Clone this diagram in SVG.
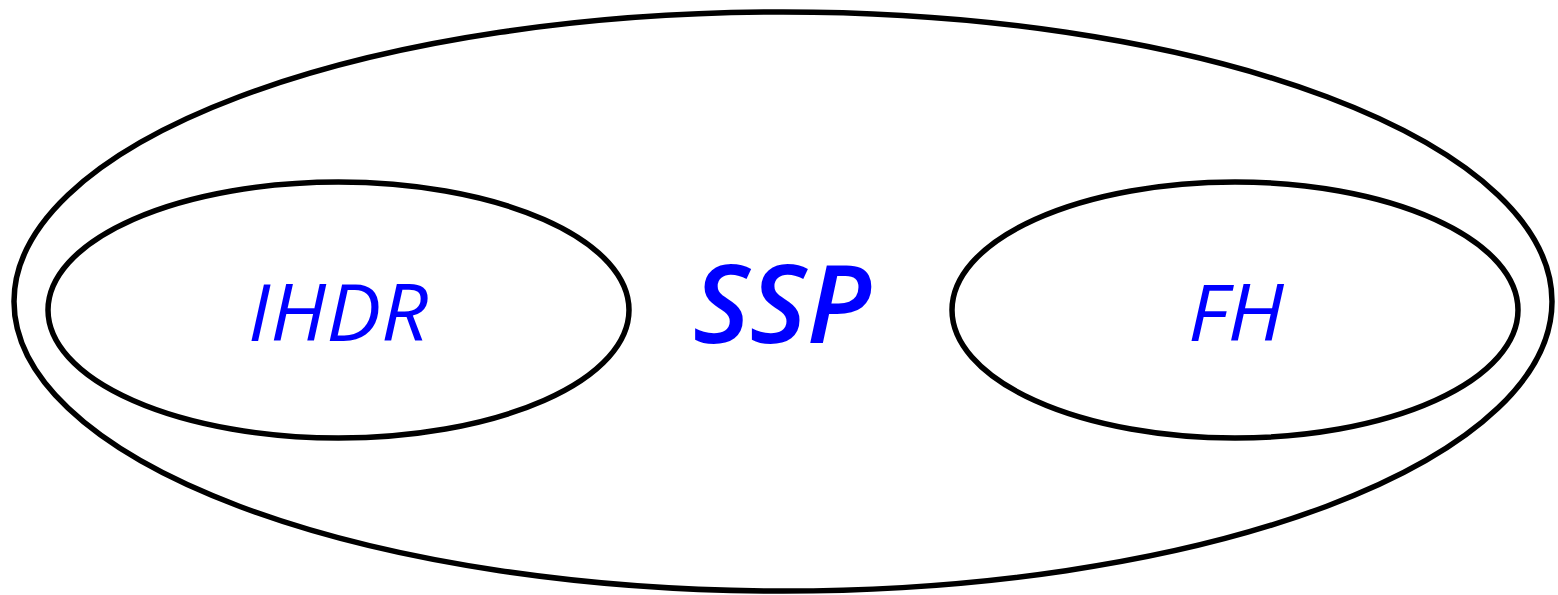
<svg xmlns="http://www.w3.org/2000/svg" width="1558" height="595" viewBox="0 0 1558 595">
<style>
.set{fill:none;stroke:#000;stroke-width:5.5}
.lbl{font-family:"Open Sans","Noto Sans",sans-serif;font-style:italic;fill:#0000ff;text-anchor:middle}
</style>
<rect width="1558" height="595" fill="#fff"/>
<g id="SSP">
<ellipse class="set" cx="783" cy="301.5" rx="769" ry="289.5"/>
<text class="lbl" x="782" y="343" font-size="108" font-weight="600" textLength="178" lengthAdjust="spacingAndGlyphs">SSP</text>
</g>
<g id="IHDR">
<ellipse class="set" cx="338.5" cy="310" rx="290.5" ry="128"/>
<text class="lbl" x="338" y="341" font-size="78" textLength="180" lengthAdjust="spacingAndGlyphs">IHDR</text>
</g>
<g id="FH">
<ellipse class="set" cx="1235" cy="310" rx="283" ry="128"/>
<text class="lbl" x="1236" y="341" font-size="78" textLength="96" lengthAdjust="spacingAndGlyphs">FH</text>
</g>
<g id="connectors"></g>
</svg>
